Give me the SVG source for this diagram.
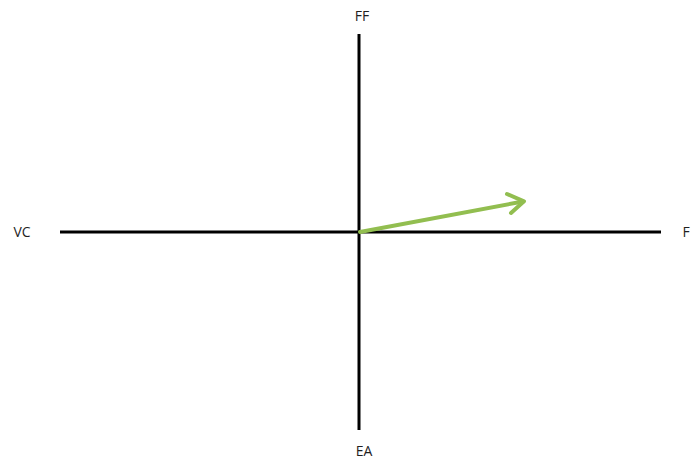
<svg xmlns="http://www.w3.org/2000/svg" width="691" height="461" viewBox="0 0 691 461">
<style>
.axis{stroke:#000;stroke-width:3;fill:none}
.lbl{font-family:"Open Sans","Liberation Sans",sans-serif;font-size:14px;fill:#1f1f1f}
.vec{stroke:#92BE50;stroke-width:4;fill:none;stroke-linecap:round;stroke-linejoin:round}
</style>
<rect width="691" height="461" fill="#fff"/>
<g id="connectors">
<line class="axis" x1="359" y1="34" x2="359" y2="430"/>
<line class="axis" x1="60" y1="232" x2="661" y2="232"/>
<line class="vec" x1="360" y1="232" x2="523" y2="201.5"/>
<polyline class="vec" points="507,194 524,201.3 511,213"/>
</g>
<g id="FF"><text class="lbl" x="362" y="21" text-anchor="middle">FF</text></g>
<g id="VC"><text class="lbl" x="22" y="237" text-anchor="middle">VC</text></g>
<g id="F"><text class="lbl" x="686" y="237" text-anchor="middle">F</text></g>
<g id="EA"><text class="lbl" x="364" y="456" text-anchor="middle">EA</text></g>
</svg>
